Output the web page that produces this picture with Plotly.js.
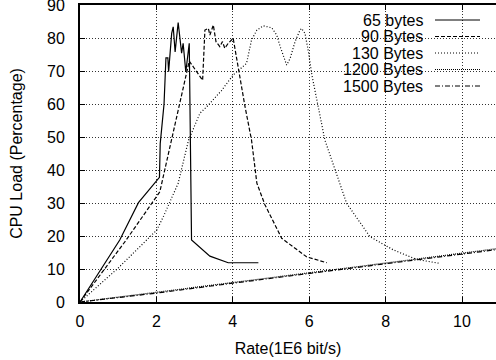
<!DOCTYPE html>
<html>
<head>
<meta charset="utf-8">
<script src="https://cdn.plot.ly/plotly-3.0.1.min.js"></script>
<style>html,body{margin:0;padding:0;background:#fff;}#chart{width:496px;height:360px;}</style>
</head>
<body>
<div id="chart"></div>
<script>
// ---- data ----
const seriesNames = ["65 bytes", "90 Bytes", "130 Bytes", "1200 Bytes", "1500 Bytes"];

const rate65 = [0, 1.04, 1.53, 2.08, 2.10, 2.20, 2.25, 2.30, 2.32, 2.40, 2.44, 2.49, 2.57, 2.66, 2.70, 2.77, 2.86, 2.90, 2.92, 3.40, 3.88, 4.67];
const load65 = [0, 18.8, 30.1, 37.8, 48.0, 60.0, 74.0, 74.0, 69.8, 81.4, 83.4, 75.8, 84.7, 75.4, 78.4, 69.7, 78.4, 40.0, 18.8, 13.9, 11.9, 11.9];

const rate90 = [0, 1.21, 2.09, 2.66, 2.86, 3.21, 3.27, 3.36, 3.40, 3.49, 3.56, 3.66, 3.73, 3.79, 3.88, 4.01, 4.14, 4.32, 4.49, 4.63, 4.84, 5.28, 5.93, 6.46];
const load90 = [0, 18.8, 33.4, 63.0, 73.0, 67.2, 82.4, 82.9, 80.9, 83.9, 78.9, 77.4, 78.9, 76.9, 78.4, 79.9, 70.8, 59.2, 49.1, 36.0, 29.5, 19.3, 13.7, 11.9];

const rate130 = [0, 1.0, 2.01, 2.18, 2.57, 2.84, 3.14, 3.32, 3.70, 4.01, 4.36, 4.41, 4.49, 4.63, 4.80, 5.02, 5.15, 5.24, 5.32, 5.41, 5.50, 5.63, 5.76, 5.80, 5.89, 5.98, 6.07, 6.41, 6.98, 7.59, 8.20, 8.81, 9.42];
const load130 = [0, 10.3, 21.8, 25.8, 36.0, 49.0, 57.2, 59.2, 64.0, 68.8, 72.3, 75.4, 79.4, 82.4, 83.7, 83.1, 80.9, 77.4, 74.8, 71.8, 73.8, 78.9, 82.4, 82.9, 81.4, 75.8, 68.8, 49.1, 29.9, 19.8, 15.8, 12.9, 11.7];

const rate1200 = [0, 2, 4, 6, 8, 10, 11];
const load1200 = [0, 2.9, 5.9, 8.9, 11.8, 14.8, 16.3];

const rate1500 = [0, 2, 4, 6, 8, 10, 11];
const load1500 = [0, 2.7, 5.7, 8.7, 11.5, 14.5, 16.0];

const xTicks = [0, 2, 4, 6, 8, 10];
const yTicks = [0, 10, 20, 30, 40, 50, 60, 70, 80, 90];

// ---- styles ----
const dashes = ["solid", "4px,2px", "1px,2px", "1px,1px", "5px,2px,1px,2px"];
const FONT = "Liberation Sans, Arial, Helvetica, sans-serif";

const xs = [rate65, rate90, rate130, rate1200, rate1500];
const ys = [load65, load90, load130, load1200, load1500];

const traces = seriesNames.map((n, i) => ({
  type: "scatter", mode: "lines", name: n,
  x: xs[i], y: ys[i],
  line: {color: "#000", width: 1.2, dash: dashes[i]},
  showlegend: false, hoverinfo: "skip"
}));

// manual gnuplot-style key (text left, sample right) with white background
const W = 496, H = 360, mL = 80, mR = 0, mT = 5, mB = 58;
const pw = W - mL - mR, ph = H - mT - mB;
const px = v => (v - mL) / pw;
const py = v => (H - mB - v) / ph;
const rowY = [20, 36.5, 53, 69.5, 86];

const shapes = [{
  type: "rect", xref: "paper", yref: "paper",
  x0: px(325), x1: px(490), y0: py(96), y1: 1,
  fillcolor: "#fff", line: {width: 0}, layer: "between"
}];
const annotations = [];
seriesNames.forEach((n, i) => {
  annotations.push({
    xref: "paper", yref: "paper", x: px(425), y: py(rowY[i]),
    xanchor: "right", yanchor: "middle", text: n, showarrow: false,
    font: {family: FONT, size: 16, color: "#000"}
  });
  shapes.push({
    type: "line", xref: "paper", yref: "paper",
    x0: px(435), x1: px(480), y0: py(rowY[i]), y1: py(rowY[i]),
    line: {color: "#000", width: 1, dash: dashes[i]}
  });
});

const layout = {
  width: W, height: H,
  margin: {l: mL, r: mR, t: mT, b: mB, pad: 0},
  paper_bgcolor: "#fff", plot_bgcolor: "#fff",
  font: {family: FONT, size: 16, color: "#000"},
  showlegend: false,
  xaxis: {
    range: [0, (W - mL - mR) / 38.2], tickvals: xTicks, ticktext: xTicks.map(String),
    ticks: "inside", ticklen: 5, tickwidth: 1, tickcolor: "#000",
    showline: true, linecolor: "#000", linewidth: 2, mirror: "ticks",
    showgrid: true, gridcolor: "#333", gridwidth: 1, griddash: "1px,2px",
    zeroline: false, tickfont: {family: FONT, size: 16}, ticklabelstandoff: 4,
    title: {text: "Rate(1E6 bit/s)", font: {family: FONT, size: 16}, standoff: 14}
  },
  yaxis: {
    range: [0, 90], tickvals: yTicks, ticktext: yTicks.map(String),
    ticks: "inside", ticklen: 5, tickwidth: 1, tickcolor: "#000",
    showline: true, linecolor: "#000", linewidth: 2, mirror: false,
    showgrid: true, gridcolor: "#333", gridwidth: 1, griddash: "1px,2px",
    zeroline: false, tickfont: {family: FONT, size: 16}, ticklabelstandoff: 10,
    ticklabeloverflow: "allow",
    title: {text: "CPU Load (Percentage)", font: {family: FONT, size: 16}, standoff: 20}
  },
  shapes: shapes,
  annotations: annotations
};

Plotly.newPlot("chart", traces, layout, {staticPlot: true, displayModeBar: false});
</script>
</body>
</html>
